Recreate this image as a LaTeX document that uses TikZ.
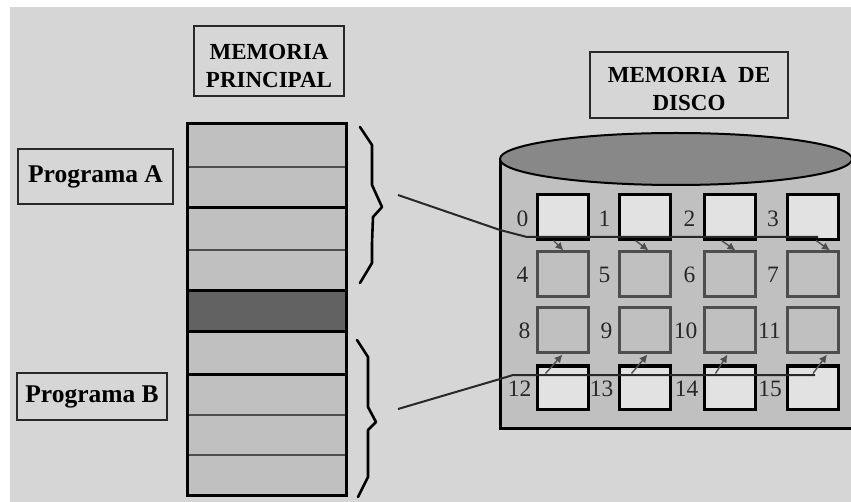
\documentclass[tikz,border=0pt]{standalone}
\usepackage{fontspec}
\setmainfont{Liberation Serif}
\usetikzlibrary{arrows.meta}
\definecolor{bgc}{RGB}{214,214,214}
\definecolor{lite}{RGB}{226,226,226}
\definecolor{memfill}{RGB}{192,192,192}
\definecolor{darkrow}{RGB}{98,98,98}
\definecolor{cyltop}{RGB}{136,136,136}
\definecolor{ink}{RGB}{40,40,40}
\definecolor{midgray}{RGB}{78,78,78}
\tikzset{
  labelbox/.style={draw=ink, line width=2.5pt, fill=bgc, inner sep=0pt},
  titlefont/.style={font=\fontsize{23}{28}\selectfont\bfseries, align=center, inner sep=0pt},
  progfont/.style={font=\fontsize{25.5}{28}\selectfont\bfseries},
  topbox/.style={draw=black, line width=3pt, fill=lite, minimum width=51pt, minimum height=45pt, inner sep=0pt},
  midbox/.style={draw=midgray, line width=3pt, fill=memfill, minimum width=51pt, minimum height=45pt, inner sep=0pt},
  lowbox/.style={draw=black, line width=3pt, fill=lite, minimum width=51pt, minimum height=43pt, inner sep=0pt},
  num/.style={font=\fontsize{23.5}{23.5}\selectfont, inner sep=0pt, text=ink},
  thicksep/.style={line width=3pt, draw=black},
  thinsep/.style={line width=1.6pt, draw=midgray},
  bracestyle/.style={line width=2.6pt, line join=round, line cap=round, draw=black},
  link/.style={line width=2pt, draw=ink, line join=round},
  ptr/.style={line width=1.4pt, draw=midgray, -{Latex[length=8pt,width=8pt]}}
}
\begin{document}
\begin{tikzpicture}[x=1pt,y=-1pt]
\useasboundingbox (0,0) rectangle (851,502);
\fill[white] (0,0) rectangle (851,502);
\fill[bgc] (10,7) rectangle (851,502);

% title boxes
\node[labelbox, minimum width=150pt, minimum height=70pt] (mp) at (269,61) {};
\node[titlefont] (mpt) at ([yshift=-5pt]mp.center) {MEMORIA\\PRINCIPAL};
\node[labelbox, minimum width=198pt, minimum height=66pt] (md) at (689,85) {};
\node[titlefont] (mdt) at ([yshift=-4pt]md.center) {MEMORIA\ \ DE\\DISCO};
\node[labelbox, progfont, minimum width=155pt, minimum height=55pt] (pa) at (95.5,176.5) {Programa A};
\node[labelbox, progfont, minimum width=150pt, minimum height=47pt] (pb) at (92,396.5) {Programa B};

% main memory column
\node[draw=none, fill=memfill, minimum width=158pt, minimum height=371pt, inner sep=0pt] (mem) at (267,309.5) {};
\fill[darkrow] (188,291) rectangle (346,332);
\foreach \yy in {167,250,415,455} \draw[thinsep] (188,\yy) -- (346,\yy);
\foreach \yy in {208,291,332,374} \draw[thicksep] (188,\yy) -- (346,\yy);
\draw[line width=3pt, draw=black] (mem.north west) rectangle (mem.south east);

% braces
\draw[bracestyle] (360,127) -- (372,145) -- (372,185) -- (382,207) -- (373,217) -- (372,243) -- (372,263) -- (360,283);
\draw[bracestyle] (357,340) -- (368,357) -- (368,407) -- (376,422) -- (368,430) -- (368,477) -- (358,497);

% disk cylinder
\fill[memfill] (500,159) rectangle (860,428);
\draw[line width=3pt] (500,159) -- (500,428) -- (860,428);
\draw[fill=cyltop, line width=2pt] (676,159) ellipse [x radius=176pt, y radius=26pt];

% disk blocks
\foreach \c/\x in {0/562.5,1/644.5,2/729.5,3/813} {
  \pgfmathtruncatemacro{\ia}{\c}
  \pgfmathtruncatemacro{\ib}{\c+4}
  \pgfmathtruncatemacro{\ic}{\c+8}
  \pgfmathtruncatemacro{\id}{\c+12}
  \node[topbox] (b\ia) at (\x,217.5) {};
  \node[midbox] (b\ib) at (\x,274.5) {};
  \node[midbox] (b\ic) at (\x,330.5) {};
  \node[lowbox] (b\id) at (\x,387.5) {};
  \node[num, anchor=east] (l\ia) at ([xshift=-7pt,yshift=-1pt]b\ia.west) {\ia};
  \node[num, anchor=east] (l\ib) at ([xshift=-7pt]b\ib.west) {\ib};
  \node[num, anchor=east] (l\ic) at ([xshift=-5pt]b\ic.west) {\ic};
  \node[num, anchor=east] (l\id) at ([xshift=-4pt,yshift=-1pt]b\id.west) {\id};
}

% links from braces into the disk
\coordinate (cA) at (398,195);
\coordinate (cA1) at (500,230);
\coordinate (cA2) at (527,237);
\coordinate (cA3) at (818,237);
\draw[link] (cA) -- (cA1) -- (cA2) -- (cA3);
\coordinate (cB) at (398,409);
\coordinate (cB1) at (500,379);
\coordinate (cB2) at (513,375);
\coordinate (cB3) at (815,375);
\draw[link] (cB) -- (cB1) -- (cB2) -- (cB3);

% pointers
\draw[ptr] ([xshift=18pt,yshift=1pt]b0.south west) -- ([xshift=28pt]b4.north west);
\draw[ptr] ([xshift=18pt,yshift=1pt]b1.south west) -- ([xshift=31pt]b5.north west);
\draw[ptr] ([xshift=19pt,yshift=1pt]b2.south west) -- ([xshift=33pt]b6.north west);
\draw[ptr] ([xshift=30pt,yshift=1pt]b3.south west) -- ([xshift=44pt]b7.north west);
\draw[ptr] ([xshift=10pt,yshift=-9pt]b12.north west) -- ([xshift=27pt]b8.south west);
\draw[ptr] ([xshift=14pt,yshift=-9pt]b13.north west) -- ([xshift=30pt]b9.south west);
\draw[ptr] ([xshift=13pt,yshift=-9pt]b14.north west) -- ([xshift=25pt]b10.south west);
\draw[ptr] ([xshift=27pt,yshift=-9pt]b15.north west) -- ([xshift=41pt]b11.south west);
\end{tikzpicture}
\end{document}
